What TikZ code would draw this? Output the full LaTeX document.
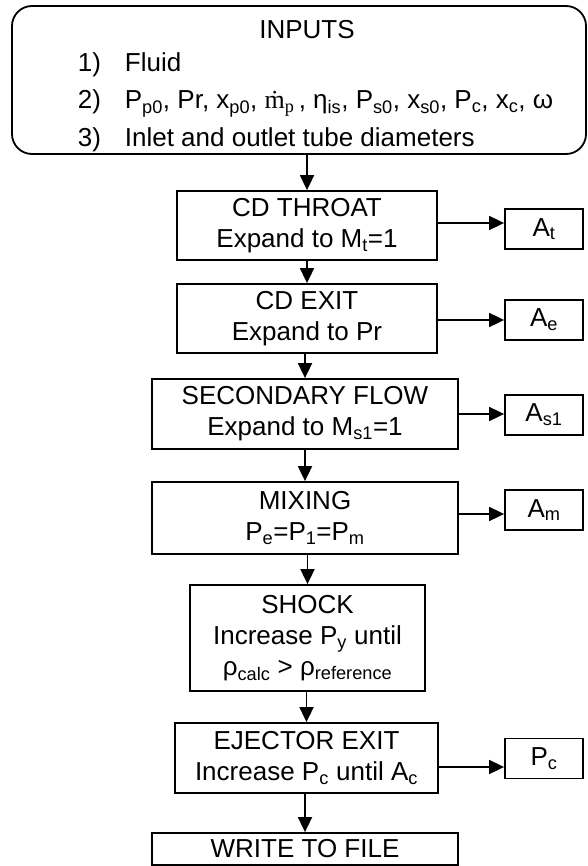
\documentclass[tikz,border=0pt]{standalone}
\usepackage{fontspec}
\setmainfont{Liberation Sans}
\newfontfamily\serifm{Liberation Serif}
\usetikzlibrary{arrows.meta}
\newcommand\lsub[1]{\textsubscript{#1}}
\begin{document}
\begin{tikzpicture}[x=1pt,y=-1pt,line width=1.8pt,
  txt/.style={font=\fontsize{26}{31}\selectfont,inner sep=0pt},
  box/.style={draw,txt,align=center},
  side/.style={box,minimum width=78,minimum height=40},
  flow/.style={-{Triangle[length=15pt,width=14pt]}}]
\useasboundingbox (0,0) rectangle (587,866);
\node[draw,rounded corners=20pt,minimum width=574,minimum height=148] (inputs) at (299,80) {};
\node[txt,anchor=base] (head) at (307,39) {INPUTS};
\foreach \i/\y/\t in {1/72/{Fluid},2/109/{P\lsub{p0}, Pr, x\lsub{p0}, {\serifm\.{m}\lsub{p}}\,, η\lsub{is}, P\lsub{s0}, x\lsub{s0}, P\lsub{c}, x\lsub{c}, ω},3/147/{Inlet and outlet tube diameters}} {
\node[txt,anchor=base west] (num\i) at (77,\y) {\i)};
\node[txt,anchor=base west] (item\i) at (124,\y) {\t};
}
\node[box,minimum width=260,minimum height=69] (throat) at (307,225.5) {CD THROAT\\Expand to M\lsub{t}=1};
\node[box,minimum width=260,minimum height=69] (cdexit) at (307,318.5) {CD EXIT\\Expand to Pr};
\node[box,minimum width=306,minimum height=70] (secondary) at (305,414) {SECONDARY FLOW\\Expand to M\lsub{s1}=1};
\node[box,minimum width=306,minimum height=72] (mixing) at (305,518) {MIXING\\P\lsub{e}=P\lsub{1}=P\lsub{m}};
\node[box,minimum width=235,minimum height=106] (shock) at (307.5,638) {SHOCK\\Increase P\lsub{y} until\\ρ\lsub{calc} > ρ\lsub{reference}};
\node[box,minimum width=263,minimum height=70] (ejector) at (306.5,758) {EJECTOR EXIT\\Increase P\lsub{c} until A\lsub{c}};
\node[box,minimum width=306,minimum height=32] (write) at (305,849) {WRITE TO FILE};
\foreach \n/\y/\t in {At/229/{A\lsub{t}},Ae/320/{A\lsub{e}},As/415/{A\lsub{s1}},Am/510/{A\lsub{m}},Pc/758.5/{P\lsub{c}}}
\node[side] (\n) at (544,\y) {\t};
\foreach \a/\b in {inputs/throat,throat/cdexit,cdexit/secondary,secondary/mixing,mixing/shock,shock/ejector,ejector/write}
\draw[flow] (\b.north |- \a.south) -- (\b.north);
\foreach \a/\b/\y in {throat/At/223,cdexit/Ae/320,secondary/As/414,mixing/Am/514,ejector/Pc/767}
\draw[flow] (\a.east |- 0,\y) -- (\b.west |- 0,\y);
\end{tikzpicture}
\end{document}
